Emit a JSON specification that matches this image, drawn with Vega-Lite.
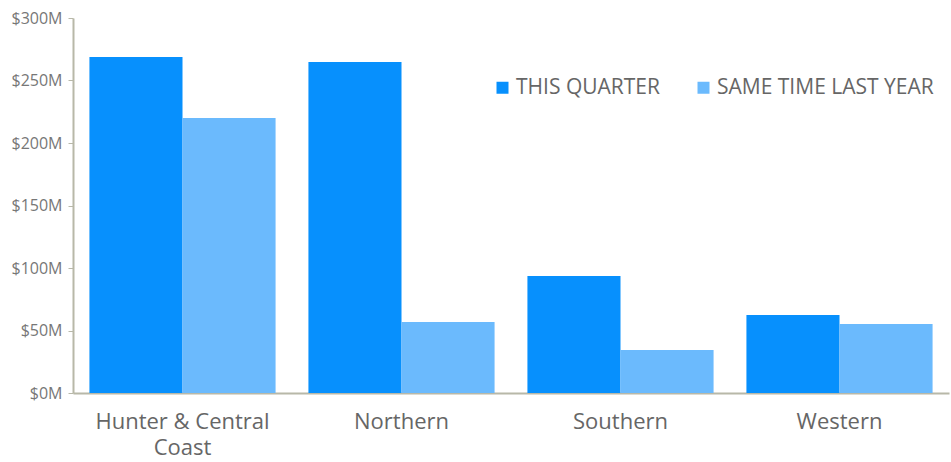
{
  "$schema": "https://vega.github.io/schema/vega-lite/v6.json",
  "width": 876,
  "height": 375,
  "autosize": {"type": "none"},
  "padding": {"left": 73, "top": 18, "right": 2, "bottom": 69},
  "background": "white",
  "config": {
    "view": {"stroke": null},
    "font": "Open Sans"
  },
  "data": {
    "values": [
      {"region": "Hunter & Central Coast", "series": "THIS QUARTER", "value": 268.8},
      {"region": "Hunter & Central Coast", "series": "SAME TIME LAST YEAR", "value": 220},
      {"region": "Northern", "series": "THIS QUARTER", "value": 264.8},
      {"region": "Northern", "series": "SAME TIME LAST YEAR", "value": 56.8},
      {"region": "Southern", "series": "THIS QUARTER", "value": 93.6},
      {"region": "Southern", "series": "SAME TIME LAST YEAR", "value": 34.4},
      {"region": "Western", "series": "THIS QUARTER", "value": 62.4},
      {"region": "Western", "series": "SAME TIME LAST YEAR", "value": 55.2}
    ]
  },
  "mark": {"type": "bar"},
  "encoding": {
    "x": {
      "field": "region",
      "type": "nominal",
      "sort": null,
      "scale": {"paddingInner": 0.15, "paddingOuter": 0.075},
      "axis": {
        "title": null,
        "labelAngle": 0,
        "labelFontSize": 22,
        "labelColor": "#666666",
        "labelPadding": 18,
        "labelLineHeight": 26,
        "labelLimit": 0,
        "ticks": false,
        "domainColor": "#b8b8a8",
        "domainWidth": 2,
        "labelExpr": "datum.label == 'Hunter & Central Coast' ? ['Hunter & Central', 'Coast'] : datum.label"
      }
    },
    "xOffset": {
      "field": "series",
      "type": "nominal",
      "sort": ["THIS QUARTER", "SAME TIME LAST YEAR"],
      "scale": {"paddingInner": 0, "paddingOuter": 0}
    },
    "y": {
      "field": "value",
      "type": "quantitative",
      "scale": {"domain": [0, 300], "nice": false},
      "axis": {
        "title": null,
        "values": [0, 50, 100, 150, 200, 250, 300],
        "labelExpr": "'$' + datum.value + 'M'",
        "labelFontSize": 16,
        "labelColor": "#777777",
        "labelPadding": 6,
        "grid": false,
        "tickSize": 5,
        "tickColor": "#b8b8a8",
        "domainColor": "#b8b8a8",
        "domainWidth": 2
      }
    },
    "color": {
      "field": "series",
      "type": "nominal",
      "sort": ["THIS QUARTER", "SAME TIME LAST YEAR"],
      "scale": {"domain": ["THIS QUARTER", "SAME TIME LAST YEAR"], "range": ["#0790fd", "#6bbafd"]},
      "legend": {
        "title": null,
        "orient": "none",
        "direction": "horizontal",
        "legendX": 419,
        "legendY": 59,
        "symbolType": "square",
        "symbolSize": 144,
        "symbolStrokeWidth": 0,
        "symbolOpacity": 1,
        "labelFontSize": 21,
        "labelColor": "#666666",
        "labelOffset": 3,
        "labelLimit": 0,
        "columnPadding": 33
      }
    }
  }
}
